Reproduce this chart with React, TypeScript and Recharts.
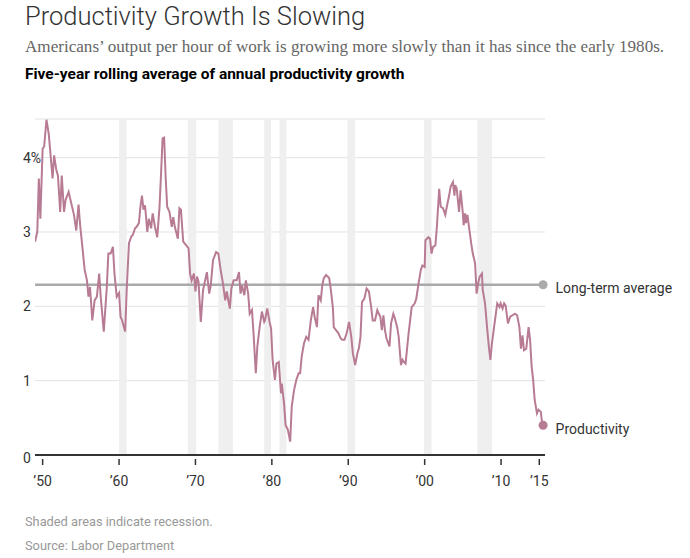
import {
  ComposedChart,
  Line,
  XAxis,
  YAxis,
  CartesianGrid,
  ReferenceArea,
  ReferenceLine,
  ReferenceDot,
} from "recharts";

// five-year rolling average of annual productivity growth
const years = [
  1949.0, 1949.3, 1949.5, 1949.7, 1950.0, 1950.2, 1950.5, 1950.8, 1951.3, 1951.5,
  1951.8, 1952.0, 1952.3, 1952.5, 1952.8, 1953.0, 1953.4, 1954.1, 1954.4, 1954.7,
  1954.9, 1955.2, 1955.5, 1955.8, 1956.0, 1956.2, 1956.5, 1956.8, 1957.1, 1957.4,
  1957.6, 1958.0, 1958.4, 1958.6, 1958.9, 1959.2, 1959.4, 1959.7, 1960.0, 1960.2,
  1960.4, 1960.8, 1961.0, 1961.3, 1961.6, 1961.8, 1962.1, 1962.3, 1962.6, 1962.8,
  1963.0, 1963.2, 1963.4, 1963.7, 1963.9, 1964.2, 1964.4, 1964.7, 1965.0, 1965.3,
  1965.5, 1965.7, 1965.9, 1966.1, 1966.3, 1966.6, 1966.9, 1967.1, 1967.3, 1967.7,
  1967.9, 1968.1, 1968.4, 1968.8, 1969.1, 1969.3, 1969.5, 1969.8, 1970.0, 1970.2,
  1970.4, 1970.7, 1971.0, 1971.5, 1971.8, 1972.0, 1972.3, 1972.7, 1973.0, 1973.3,
  1973.6, 1973.9, 1974.1, 1974.5, 1974.7, 1975.0, 1975.4, 1975.7, 1975.9, 1976.1,
  1976.4, 1976.6, 1976.9, 1977.1, 1977.4, 1977.6, 1977.9, 1978.1, 1978.4, 1978.7,
  1979.0, 1979.1, 1979.4, 1979.7, 1979.9, 1980.1, 1980.4, 1980.6, 1980.9, 1981.2,
  1981.3, 1981.6, 1981.8, 1982.1, 1982.4, 1982.6, 1982.9, 1983.2, 1983.5, 1983.7,
  1983.9, 1984.2, 1984.5, 1984.8, 1985.1, 1985.4, 1985.6, 1985.9, 1986.1, 1986.4,
  1986.6, 1986.8, 1987.1, 1987.5, 1987.7, 1988.0, 1988.1, 1988.4, 1988.7, 1989.0,
  1989.2, 1989.5, 1989.8, 1990.1, 1990.4, 1990.6, 1990.9, 1991.2, 1991.4, 1991.6,
  1991.8, 1992.1, 1992.4, 1992.7, 1993.0, 1993.2, 1993.5, 1993.8, 1994.0, 1994.2,
  1994.4, 1994.6, 1994.8, 1995.0, 1995.4, 1995.6, 1995.9, 1996.1, 1996.4, 1996.6,
  1996.9, 1997.1, 1997.3, 1997.5, 1997.9, 1998.1, 1998.3, 1998.7, 1998.9, 1999.2,
  1999.5, 1999.7, 2000.0, 2000.1, 2000.5, 2000.7, 2000.9, 2001.1, 2001.4, 2001.6,
  2001.9, 2002.1, 2002.4, 2002.7, 2002.9, 2003.2, 2003.4, 2003.7, 2003.9, 2004.0,
  2004.2, 2004.5, 2004.7, 2005.0, 2005.1, 2005.3, 2005.4, 2005.6, 2005.8, 2006.1,
  2006.3, 2006.6, 2006.8, 2007.0, 2007.2, 2007.5, 2007.6, 2007.9, 2008.2, 2008.4,
  2008.6, 2008.8, 2009.2, 2009.5, 2009.8, 2009.95, 2010.2, 2010.4, 2010.6, 2010.9,
  2011.2, 2011.5, 2011.8, 2012.1, 2012.4, 2012.6, 2012.8, 2013.0, 2013.3, 2013.6,
  2013.8, 2014.0, 2014.2, 2014.4, 2014.7, 2014.9, 2015.2, 2015.35, 2015.5,
];

const productivity = [
  2.87, 3.0, 3.72, 3.18, 4.12, 4.15, 4.51, 4.32, 3.72, 4.03,
  3.83, 3.76, 3.27, 3.76, 3.27, 3.43, 3.54, 3.23, 3.02, 3.37,
  3.1, 2.8, 2.49, 2.35, 2.13, 2.26, 1.81, 2.08, 2.13, 2.44,
  2.13, 1.66, 2.26, 2.71, 2.71, 2.8, 2.44, 2.13, 2.18, 1.86,
  1.81, 1.66, 2.22, 2.85, 2.94, 2.96, 3.05, 3.07, 3.12, 3.34,
  3.49, 3.3, 3.36, 3.0, 3.18, 3.05, 3.25, 3.07, 2.93, 3.34,
  3.79, 4.26, 4.27, 3.74, 3.34, 3.27, 3.07, 3.2, 3.07, 2.91,
  3.32, 3.3, 2.87, 2.82, 2.78, 2.44, 2.35, 2.44, 2.2, 2.4,
  2.33, 1.79, 2.22, 2.46, 2.17, 2.28, 2.62, 2.73, 2.71, 2.49,
  2.31, 2.08, 2.2, 1.97, 2.24, 2.35, 2.35, 2.46, 2.17, 2.28,
  2.15, 2.35, 2.17, 1.9, 1.95, 1.64, 1.1, 1.46, 1.72, 1.93,
  1.79, 1.81, 1.97, 1.79, 1.7, 1.28, 1.01, 1.23, 1.25, 0.83,
  0.96, 0.69, 0.4, 0.34, 0.18, 0.65, 0.87, 1.01, 1.1, 1.1,
  1.32, 1.5, 1.59, 1.55, 1.81, 1.99, 1.86, 1.72, 2.15, 2.08,
  2.28, 2.38, 2.42, 2.38, 2.24, 1.97, 1.72, 1.68, 1.64, 1.57,
  1.55, 1.55, 1.64, 1.79, 1.59, 1.37, 1.21, 1.37, 1.44, 1.59,
  2.06, 2.1, 2.24, 2.2, 1.99, 1.81, 1.81, 1.95, 1.9, 1.86,
  1.68, 1.88, 1.68, 1.57, 1.46, 1.77, 1.9, 1.84, 1.72, 1.59,
  1.21, 1.28, 1.25, 1.23, 1.64, 1.81, 1.99, 2.04, 2.1, 2.31,
  2.49, 2.55, 2.53, 2.89, 2.93, 2.91, 2.71, 2.8, 2.82, 3.07,
  3.58, 3.34, 3.32, 3.23, 3.34, 3.49, 3.61, 3.67, 3.49, 3.63,
  3.58, 3.27, 3.56, 3.25, 3.09, 3.25, 3.12, 3.23, 3.07, 2.84,
  2.71, 2.58, 2.17, 2.31, 2.4, 2.44, 2.22, 2.04, 1.68, 1.46,
  1.28, 1.5, 1.81, 2.04, 1.99, 2.04, 1.97, 2.04, 2.01, 1.77,
  1.86, 1.88, 1.9, 1.88, 1.72, 1.43, 1.61, 1.41, 1.43, 1.72,
  1.55, 1.19, 1.01, 0.74, 0.56, 0.61, 0.58, 0.45, 0.4,
];

const recessionStarts = [1960.0, 1969.0, 1973.0, 1979.0, 1981.0, 1989.9, 1999.9, 2006.9];
const recessionEnds = [1961.0, 1970.1, 1974.9, 1979.9, 1981.9, 1990.9, 2000.9, 2008.8];

const longTermAverage = 2.29;

const xTicks = [1950, 1960, 1970, 1980, 1990, 2000, 2010, 2015];
const yTicks = [0, 1, 2, 3, 4];

const data = years.map((year, i) => ({ year, value: productivity[i] }));
const last = data[data.length - 1];

const SANS = "Roboto, 'Liberation Sans', sans-serif";
const LINE_COLOR = "#b87b94";

function yearLabel(v: number) {
  return "\u2019" + String(v % 100).padStart(2, "0");
}

function XTick(props: any) {
  const { x, y, payload } = props;
  return (
    <g transform={`translate(${x},${y})`}>
      <line y1={-4} y2={2} stroke="#333" strokeWidth={1.5} />
      <text y={23} textAnchor="middle" fill="#333" fontSize={14} fontFamily={SANS}>
        {yearLabel(payload.value)}
      </text>
    </g>
  );
}

function YTick(props: any) {
  const { y, payload } = props;
  const v = payload.value;
  return (
    <text x={23} y={y} dy={v === 0 ? 8 : 5} fill="#333" fontSize={14} fontFamily={SANS}>
      {v === 4 ? "4%" : v}
    </text>
  );
}

export default function App() {
  return (
    <div
      style={{
        position: "absolute",
        left: 0,
        top: 0,
        width: 690,
        height: 558,
        background: "#fff",
        fontFamily: SANS,
      }}
    >
      <div
        style={{
          position: "absolute",
          left: 25,
          top: 1,
          fontSize: 25.5,
          fontWeight: 300,
          color: "#333",
          whiteSpace: "nowrap",
        }}
      >
        Productivity Growth Is Slowing
      </div>
      <div
        style={{
          position: "absolute",
          left: 25,
          top: 37,
          fontSize: 17.1,
          fontFamily: "'Liberation Serif', serif",
          color: "#666",
          whiteSpace: "nowrap",
        }}
      >
        Americans’ output per hour of work is growing more slowly than it has since the early 1980s.
      </div>
      <div
        style={{
          position: "absolute",
          left: 25,
          top: 65,
          fontSize: 15.5,
          fontWeight: 700,
          color: "#000",
          whiteSpace: "nowrap",
        }}
      >
        Five-year rolling average of annual productivity growth
      </div>

      <div style={{ position: "absolute", left: 0, top: 0 }}>
        <ComposedChart
          width={690}
          height={558}
          data={data}
          margin={{ top: 119, right: 145, bottom: 73, left: 0 }}
        >
          {recessionStarts.map((s, i) => (
            <ReferenceArea
              key={i}
              x1={s}
              x2={recessionEnds[i]}
              fill="#efefef"
              fillOpacity={1}
              stroke="none"
            />
          ))}
          <CartesianGrid vertical={false} stroke="#e2e2e2" />
          <XAxis
            dataKey="year"
            type="number"
            domain={[1949, 2015.75]}
            ticks={xTicks}
            interval={0}
            allowDataOverflow
            axisLine={{ stroke: "#333", strokeWidth: 2 }}
            tickLine={false}
            tick={<XTick />}
          />
          <YAxis
            type="number"
            domain={[0, 4.52]}
            ticks={yTicks}
            interval={0}
            allowDataOverflow
            width={35}
            axisLine={false}
            tickLine={false}
            tick={<YTick />}
          />
          <ReferenceLine y={longTermAverage} stroke="#aaa" strokeWidth={2.5} />
          <ReferenceDot
            x={last.year}
            y={longTermAverage}
            r={4.5}
            fill="#aaa"
            stroke="none"
            label={{
              value: "Long-term average",
              position: "right",
              offset: 8,
              dy: 3,
              fill: "#333",
              fontSize: 14,
              fontFamily: SANS,
            }}
          />
          <Line
            type="linear"
            dataKey="value"
            stroke={LINE_COLOR}
            strokeWidth={2}
            dot={false}
            activeDot={false}
            isAnimationActive={false}
          />
          <ReferenceDot
            x={last.year}
            y={last.value}
            r={4.5}
            fill={LINE_COLOR}
            stroke="none"
            label={{
              value: "Productivity",
              position: "right",
              offset: 8,
              dy: 4,
              fill: "#333",
              fontSize: 14,
              fontFamily: SANS,
            }}
          />
        </ComposedChart>
      </div>

      <div
        style={{
          position: "absolute",
          left: 25,
          top: 514,
          fontSize: 12.8,
          color: "#999",
          whiteSpace: "nowrap",
        }}
      >
        Shaded areas indicate recession.
      </div>
      <div
        style={{
          position: "absolute",
          left: 25,
          top: 538,
          fontSize: 12.8,
          color: "#999",
          whiteSpace: "nowrap",
        }}
      >
        Source: Labor Department
      </div>
    </div>
  );
}
